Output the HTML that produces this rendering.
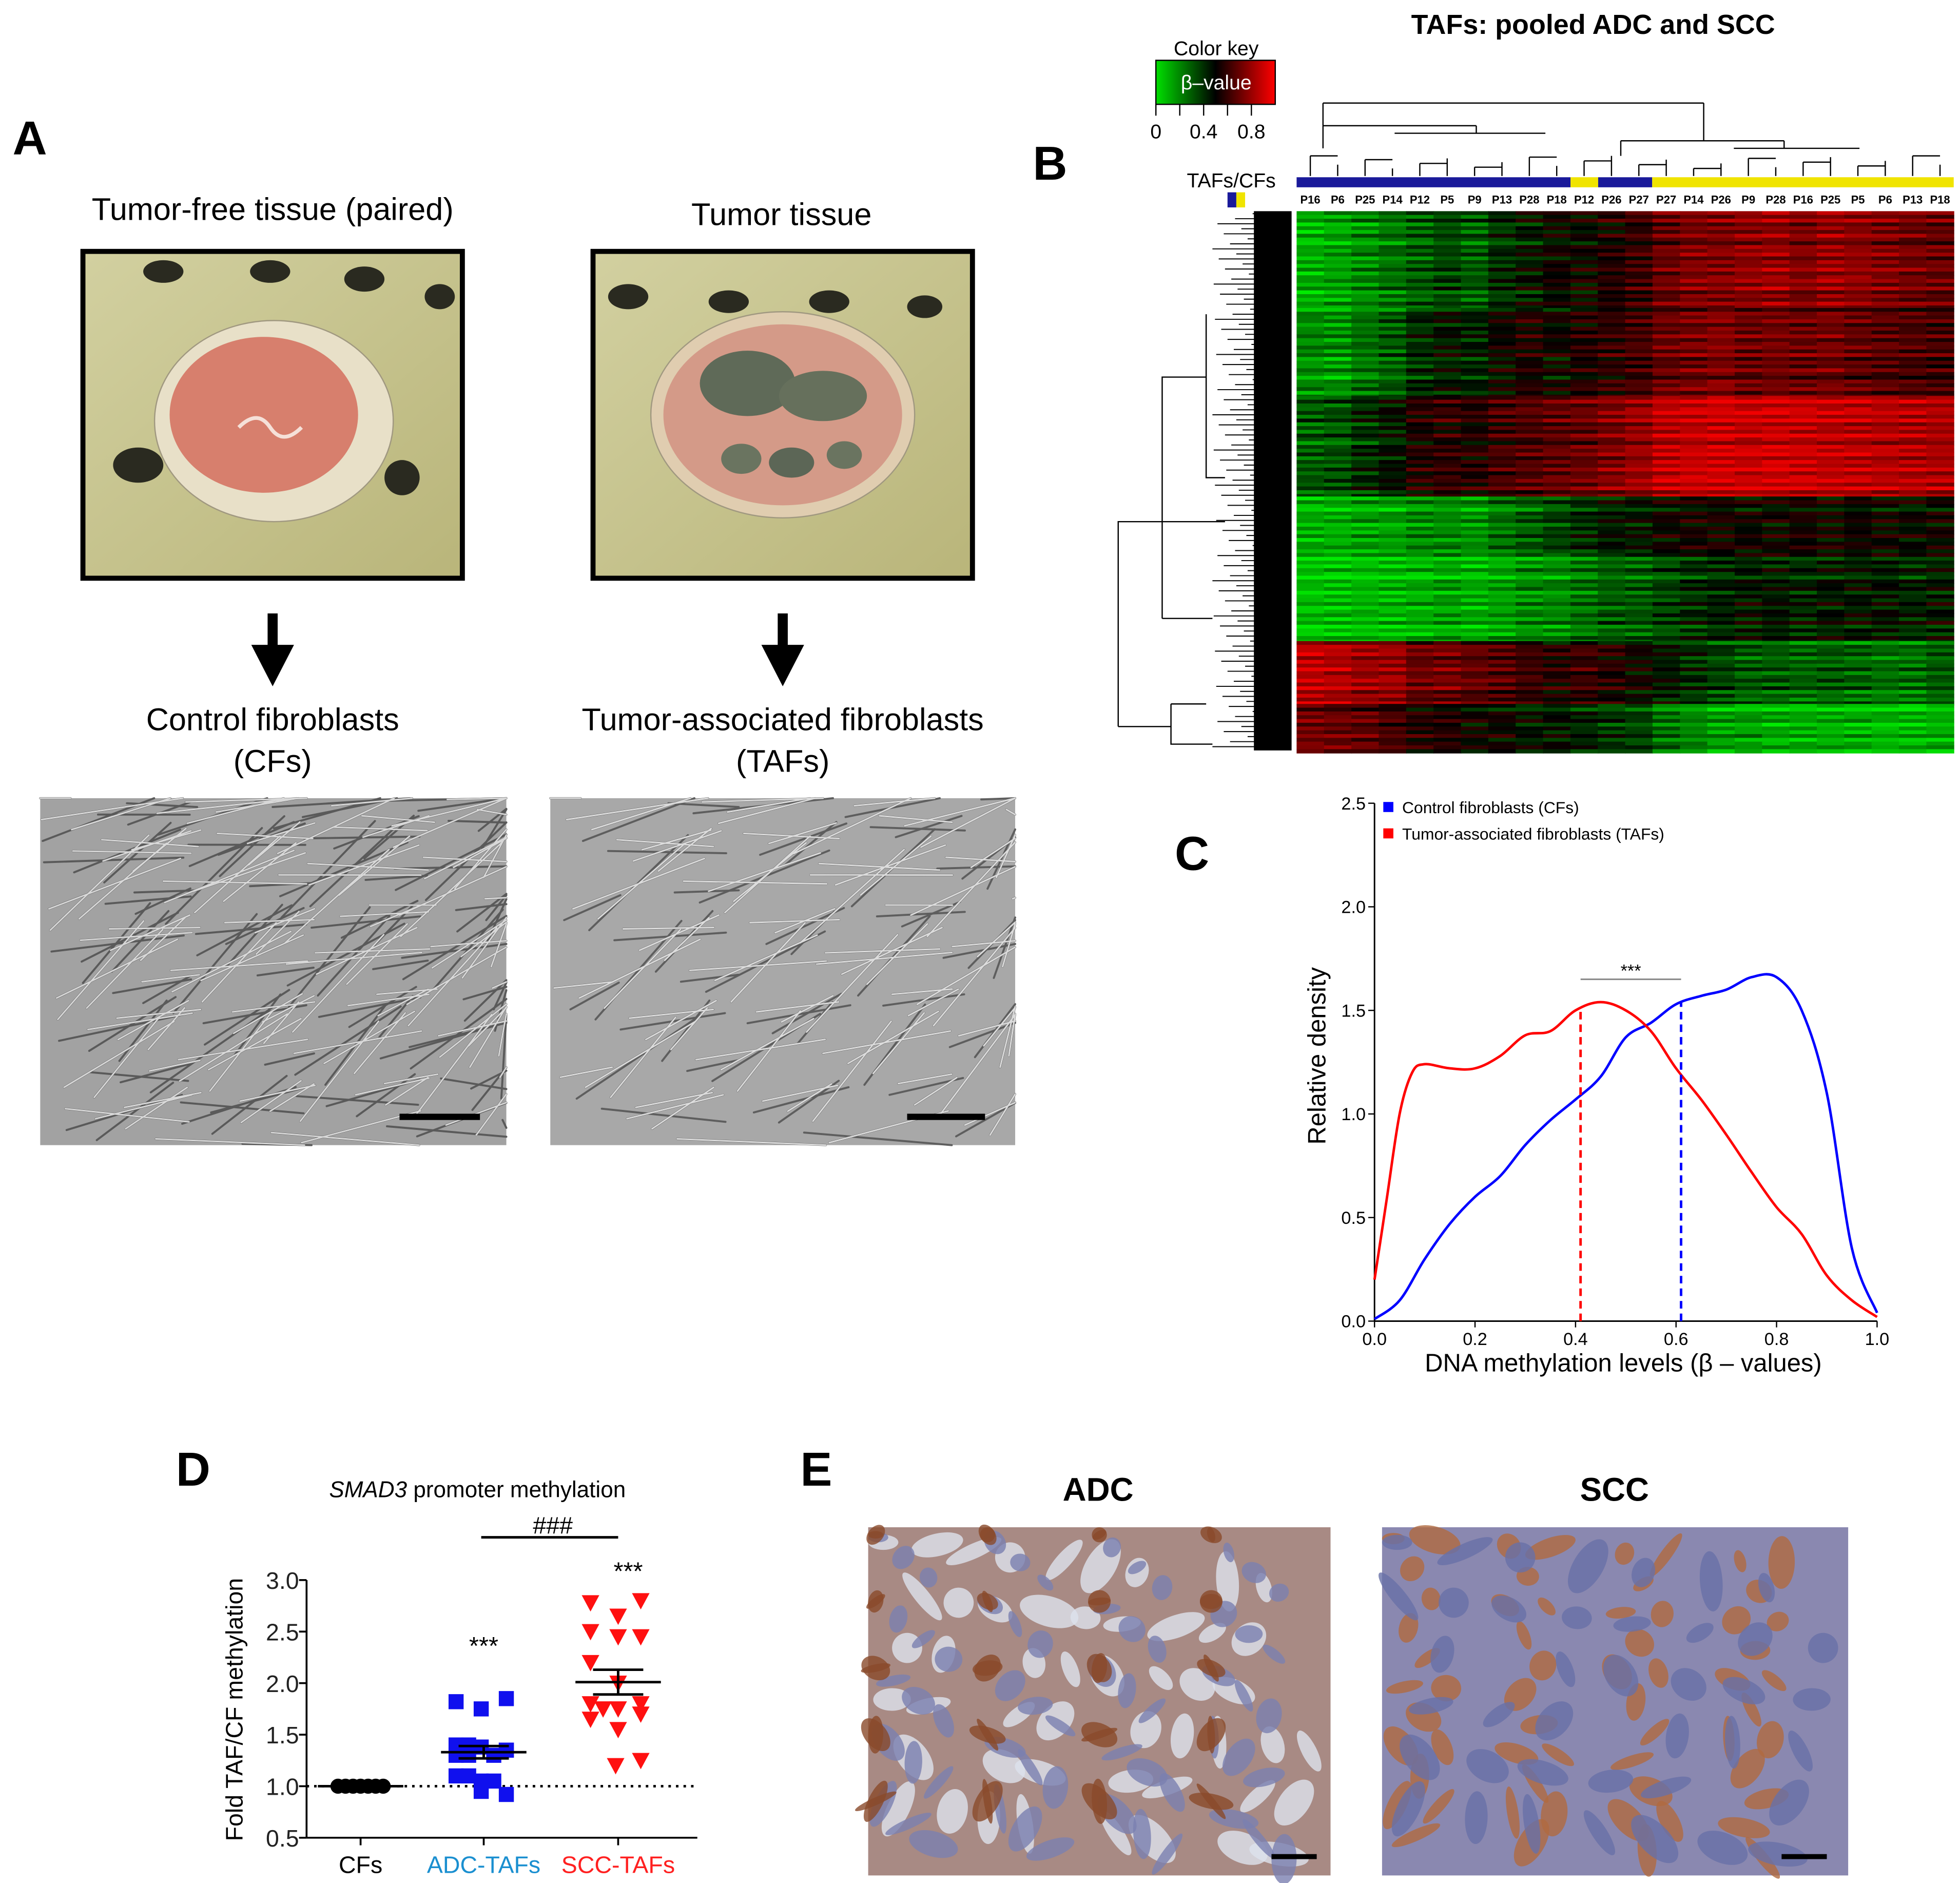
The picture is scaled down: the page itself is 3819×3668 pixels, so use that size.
<!DOCTYPE html>
<html><head><meta charset="utf-8"><style>
html,body{margin:0;padding:0;background:#fff}
svg{display:block}
text{font-family:"Liberation Sans",sans-serif}
</style></head><body>
<svg id="fig" xmlns="http://www.w3.org/2000/svg" width="3819" height="3668" viewBox="0 0 1560 1498" preserveAspectRatio="none">
<defs>
<linearGradient id="bgA" x1="0" y1="0" x2="1" y2="1"><stop offset="0" stop-color="#d2d0a0"/><stop offset="1" stop-color="#b9b57a"/></linearGradient>
</defs>

<!-- Panel A -->
<g>
<text x="10" y="123" font-size="38" font-weight="bold">A</text>
<text x="217" y="175" font-size="25" text-anchor="middle">Tumor-free tissue (paired)</text>
<text x="622" y="179" font-size="25" text-anchor="middle">Tumor tissue</text>
<g>
<rect x="66" y="200" width="302" height="260" fill="url(#bgA)" stroke="#000" stroke-width="4"/>
<ellipse cx="130" cy="216" rx="16" ry="9" fill="#2a2a20"/><ellipse cx="215" cy="216" rx="16" ry="9" fill="#2a2a20"/><ellipse cx="290" cy="222" rx="16" ry="10" fill="#2a2a20"/><ellipse cx="350" cy="236" rx="12" ry="10" fill="#2a2a20"/>
<ellipse cx="110" cy="370" rx="20" ry="14" fill="#2a2a20"/><ellipse cx="320" cy="380" rx="14" ry="14" fill="#2a2a20"/>
<ellipse cx="218" cy="335" rx="95" ry="80" fill="#e8e0c8" stroke="#a09880"/>
<ellipse cx="210" cy="330" rx="75" ry="62" fill="#d77f6d"/>
<path d="M190 340 q15 -15 25 0 q10 15 25 0" stroke="#f5e0d8" stroke-width="3" fill="none"/>
</g>
<g>
<rect x="472" y="200" width="302" height="260" fill="url(#bgA)" stroke="#000" stroke-width="4"/>
<ellipse cx="500" cy="236" rx="16" ry="10" fill="#2a2a20"/><ellipse cx="580" cy="240" rx="16" ry="9" fill="#2a2a20"/><ellipse cx="660" cy="240" rx="16" ry="9" fill="#2a2a20"/><ellipse cx="736" cy="244" rx="14" ry="9" fill="#2a2a20"/>
<ellipse cx="623" cy="330" rx="105" ry="82" fill="#e0cdb0" stroke="#a09880"/>
<ellipse cx="623" cy="330" rx="95" ry="72" fill="#d49a88"/>
<ellipse cx="595" cy="305" rx="38" ry="26" fill="#5f6a58"/><ellipse cx="655" cy="315" rx="35" ry="20" fill="#66705c"/>
<ellipse cx="590" cy="365" rx="16" ry="12" fill="#6a7460"/><ellipse cx="630" cy="368" rx="18" ry="12" fill="#5c6656"/><ellipse cx="672" cy="362" rx="14" ry="11" fill="#6a7460"/>
</g>
<g><rect x="213" y="488" width="8" height="30" fill="#000"/><polygon points="200,513 234,513 217,546" fill="#000"/></g>
<g><rect x="619" y="488" width="8" height="30" fill="#000"/><polygon points="606,513 640,513 623,546" fill="#000"/></g>
<text x="217" y="581" font-size="25" text-anchor="middle">Control fibroblasts</text>
<text x="217" y="614" font-size="25" text-anchor="middle">(CFs)</text>
<text x="623" y="581" font-size="25" text-anchor="middle">Tumor-associated fibroblasts</text>
<text x="623" y="614" font-size="25" text-anchor="middle">(TAFs)</text>
<g id="micro1"><rect x="32" y="635" width="371" height="276" fill="#a2a2a2"/></g>
<g id="micro2"><rect x="438" y="635" width="370" height="276" fill="#a8a8a8"/></g>
<rect x="318" y="886" width="64" height="5" fill="#000"/>
<rect x="722" y="886" width="62" height="5" fill="#000"/>
</g>

<!-- Panel B -->
<g>
<text x="822" y="143" font-size="38" font-weight="bold">B</text>
<text x="1268" y="27" font-size="22" font-weight="bold" text-anchor="middle">TAFs: pooled ADC and SCC</text>
<text x="968" y="44" font-size="16" text-anchor="middle">Color key</text>
<defs><linearGradient id="ck"><stop offset="0" stop-color="#00e000"/><stop offset="0.5" stop-color="#000"/><stop offset="1" stop-color="#ff0000"/></linearGradient></defs>
<rect x="920" y="48" width="95" height="35" fill="url(#ck)" stroke="#000"/>
<text x="968" y="71" font-size="16" fill="#fff" text-anchor="middle">β–value</text>
<g stroke="#000"><line x1="920" y1="83" x2="920" y2="92"/><line x1="939" y1="83" x2="939" y2="92"/><line x1="958" y1="83" x2="958" y2="92"/><line x1="977" y1="83" x2="977" y2="92"/><line x1="996" y1="83" x2="996" y2="92"/></g>
<text x="920" y="110" font-size="16" text-anchor="middle">0</text>
<text x="958" y="110" font-size="16" text-anchor="middle">0.4</text>
<text x="996" y="110" font-size="16" text-anchor="middle">0.8</text>
<text x="980" y="149" font-size="16" text-anchor="middle">TAFs/CFs</text>
<rect x="977" y="153" width="7" height="12" fill="#1a1a9a"/><rect x="984" y="153" width="7" height="12" fill="#f0e400"/>
<g id="hm"></g>
<g id="dendTop" stroke="#000" fill="none" stroke-width="1"></g>
<g id="dendLeft" stroke="#000" fill="none" stroke-width="1"></g>
</g>

<!-- Panel C -->
<g id="pc">
<text x="935" y="692" font-size="38" font-weight="bold">C</text>
</g>

<!-- Panel D -->
<g id="pd">
<text x="140" y="1182" font-size="38" font-weight="bold">D</text>
<text x="380" y="1191" font-size="18" text-anchor="middle"><tspan font-style="italic">SMAD3</tspan> promoter methylation</text>
</g>

<!-- Panel E -->
<g>
<text x="637" y="1182" font-size="38" font-weight="bold">E</text>
<text x="874" y="1194" font-size="26" font-weight="bold" text-anchor="middle">ADC</text>
<text x="1285" y="1194" font-size="26" font-weight="bold" text-anchor="middle">SCC</text>
<g id="e1"><rect x="691" y="1215" width="368" height="277" fill="#a88a84"/></g>
<g id="e2"><rect x="1100" y="1215" width="371" height="277" fill="#8a88b0"/></g>
<rect x="1012" y="1475" width="36" height="4" fill="#000"/>
<rect x="1418" y="1475" width="36" height="4" fill="#000"/>
</g>
</svg>
<script>
// ---------- Panel C data ----------
const densX = [0,0.05,0.1,0.15,0.2,0.25,0.3,0.35,0.4,0.45,0.5,0.55,0.6,0.65,0.7,0.75,0.8,0.85,0.9,0.95,1.0];
const cfDensity = [0.01,0.1,0.3,0.47,0.6,0.7,0.85,0.97,1.07,1.18,1.37,1.44,1.53,1.57,1.6,1.66,1.66,1.5,1.1,0.35,0.04];
const tafX = [0,0.025,0.05,0.075,0.1,0.15,0.2,0.25,0.3,0.35,0.4,0.45,0.5,0.55,0.6,0.65,0.7,0.75,0.8,0.85,0.9,0.95,1.0];
const tafDensity = [0.2,0.6,1.0,1.2,1.24,1.22,1.22,1.28,1.38,1.4,1.5,1.54,1.5,1.4,1.22,1.07,0.9,0.72,0.55,0.42,0.22,0.1,0.02];
const medians = [0.41,0.61];
const cXTicks = ["0.0","0.2","0.4","0.6","0.8","1.0"];
const cYTicks = ["0.0","0.5","1.0","1.5","2.0","2.5"];
// ---------- Panel D data ----------
const dGroups = ["CFs","ADC-TAFs","SCC-TAFs"];
const cfVals = [1,1,1,1,1,1,1];
const adcVals = [1.82,1.75,1.85,1.4,1.38,1.35,1.4,1.3,1.3,1.35,1.1,1.05,1.1,1.05,0.95,0.92,1.3];
const sccVals = [2.78,2.8,2.65,2.5,2.45,2.45,2.2,2.0,1.8,1.75,1.75,1.8,1.65,1.7,1.55,1.2,1.25];
const groupMeans = [1.0,1.33,2.01];
const groupSem = [0,0.06,0.12];
const dYTicks = ["0.5","1.0","1.5","2.0","2.5","3.0"];
// ---------- Panel B data ----------
const sampleLabels = ["P16","P6","P25","P14","P12","P5","P9","P13","P28","P18","P12","P26","P27","P27","P14","P26","P9","P28","P16","P25","P5","P6","P13","P18"];
const rowBlocks = [
 [0.12,0.15,0.2,0.25,0.3,0.35,0.3,0.4,0.45,0.5,0.5,0.55,0.6,0.7,0.75,0.75,0.78,0.8,0.75,0.8,0.78,0.75,0.72,0.7],
 [0.2,0.18,0.25,0.3,0.4,0.45,0.42,0.5,0.55,0.5,0.55,0.58,0.62,0.7,0.72,0.75,0.7,0.72,0.7,0.72,0.68,0.66,0.64,0.62],
 [0.3,0.32,0.4,0.45,0.55,0.58,0.55,0.62,0.65,0.68,0.7,0.75,0.8,0.88,0.9,0.92,0.9,0.92,0.9,0.88,0.88,0.86,0.85,0.84],
 [0.12,0.12,0.15,0.15,0.2,0.2,0.18,0.25,0.3,0.35,0.4,0.45,0.45,0.5,0.52,0.52,0.5,0.5,0.52,0.5,0.5,0.5,0.48,0.5],
 [0.08,0.08,0.1,0.1,0.12,0.15,0.12,0.15,0.2,0.2,0.25,0.3,0.3,0.35,0.4,0.42,0.45,0.45,0.42,0.45,0.45,0.45,0.42,0.45],
 [0.88,0.85,0.8,0.8,0.7,0.72,0.68,0.65,0.6,0.55,0.6,0.55,0.5,0.45,0.4,0.35,0.3,0.3,0.28,0.3,0.28,0.25,0.25,0.3],
 [0.72,0.7,0.68,0.62,0.55,0.55,0.5,0.5,0.45,0.45,0.42,0.38,0.35,0.25,0.2,0.15,0.15,0.12,0.12,0.12,0.12,0.1,0.1,0.12]
];
const rowBlockBounds = [168,245,315,395,440,510,560,597];
const rowNoise = [0.08,-0.05,0.12,-0.1,0.03,-0.07,0.1,-0.02,-0.12,0.06,0.0,0.09,-0.08,0.04,-0.03,0.11,-0.06,0.02];
const colNoise = [0.03,-0.04,0.05,-0.02,0.0,0.04,-0.05,0.02,-0.03,0.05,-0.01,0.03,-0.04,0.02,0.05,-0.03,0.01,-0.05,0.04,-0.02,0.03,0.0,-0.04,0.02];

const NS="http://www.w3.org/2000/svg";
function mk(tag,attrs,parent){const e=document.createElementNS(NS,tag);for(const k in attrs)e.setAttribute(k,attrs[k]);if(parent)parent.appendChild(e);return e;}

// ---- Heatmap ----
(function(){
 const hm=document.getElementById('hm');
 const x0=1032,x1=1555,n=sampleLabels.length,cw=(x1-x0)/n;
 function col(v){v=Math.max(0,Math.min(1,v));if(v<0.5){return 'rgb(0,'+Math.round((0.5-v)*2*235)+',0)';}return 'rgb('+Math.round((v-0.5)*2*240)+',0,0)';}
 let k=0;
 for(let b=0;b<rowBlocks.length;b++){
  for(let y=rowBlockBounds[b];y<rowBlockBounds[b+1];y+=3){
   const rn=rowNoise[k%rowNoise.length];k++;
   for(let c=0;c<n;c++){
    const r=mk('rect',{x:x0+c*cw,y:y,width:cw+0.4,height:3.4,fill:col(rowBlocks[b][c]+rn+colNoise[(c+k)%colNoise.length])},hm);
    
    
   }
  }
 }
 const bar=[["#1a1a9a",1032,1250],["#f0e400",1250,1272],["#1a1a9a",1272,1315],["#f0e400",1315,1555]];
 bar.forEach(s=>{const r=mk('rect',{x:s[1],y:141,width:s[2]-s[1],height:8,fill:s[0]},hm);
  
  });
 sampleLabels.forEach((l,i)=>{const t=mk('text',{x:x0+(i+0.5)*cw,y:162,'font-size':9,'font-weight':'bold','text-anchor':'middle'},hm);t.textContent=l;
  
  });
 const dt=document.getElementById('dendTop');
 const lines=[[1053,82,1356,82],[1053,82,1053,100],[1356,82,1356,112],[1053,100,1175,100],[1053,100,1053,118],[1175,100,1175,106],[1110,106,1230,106],[1290,112,1420,112],[1290,112,1290,124],[1420,112,1420,118],[1380,118,1480,118]];
 lines.forEach(l=>mk('line',{x1:l[0],y1:l[1],x2:l[2],y2:l[3]},dt));
 for(let i=0;i<n;i++){const x=x0+(i+0.5)*cw;mk('line',{x1:x,y1:140,x2:x,y2:124+((i*7)%11)},dt);}
 for(let i=0;i<n-1;i+=2){const x=x0+(i+0.5)*cw;const y=124+((i*7)%11);mk('line',{x1:x,y1:y,x2:x+cw,y2:y},dt);}
 const dl=document.getElementById('dendLeft');
 mk('path',{d:'M890 578 V415 H925 V492 M925 415 V300 H960 M890 578 H932 M932 560 V592 H965 M932 560 H960 M925 492 H965 M960 300 V250 M960 300 V380 H975 M925 415 H975'},dl);
 mk('rect',{x:998,y:168,width:30,height:429,fill:'#000',stroke:'none'},dl);
 for(let y=170;y<597;y+=4){mk('line',{x1:965+((y*13)%33),y1:y,x2:1000,y2:y,'stroke-width':0.8},dl);}
})();

// ---- Panel C chart ----
(function(){
 const g=document.getElementById('pc');
 const X0=1094,X1=1494,Y0=1051,Y25=639;
 const sx=v=>X0+(X1-X0)*v, sy=v=>Y0-(Y0-Y25)*v/2.5;
 mk('line',{x1:X0,y1:Y25,x2:X0,y2:Y0,stroke:'#000','stroke-width':1.2},g);
 mk('line',{x1:X0,y1:Y0,x2:X1,y2:Y0,stroke:'#000','stroke-width':1.2},g);
 cXTicks.forEach(t=>{const v=parseFloat(t);mk('line',{x1:sx(v),y1:Y0,x2:sx(v),y2:Y0+5,stroke:'#000'},g);
  const e=mk('text',{x:sx(v),y:Y0+19,'font-size':14,'text-anchor':'middle'},g);e.textContent=t;
  
  });
 cYTicks.forEach(t=>{const v=parseFloat(t);mk('line',{x1:X0-5,y1:sy(v),x2:X0,y2:sy(v),stroke:'#000'},g);
  const e=mk('text',{x:X0-7,y:sy(v)+5,'font-size':14,'text-anchor':'end'},g);e.textContent=t;
  
  });
 const xl=mk('text',{x:1292,y:1091,'font-size':20,'text-anchor':'middle'},g);xl.textContent='DNA methylation levels (β – values)';
 
 
 const yl=mk('text',{x:1055,y:840,'font-size':20,'text-anchor':'middle',transform:'rotate(-90 1055 840)'},g);yl.textContent='Relative density';
 
 
 function path(xs,ys){const P=xs.map((x,i)=>[sx(x),sy(ys[i])]);let d='M'+P[0][0].toFixed(1)+' '+P[0][1].toFixed(1);
  for(let i=0;i<P.length-1;i++){const p0=P[Math.max(0,i-1)],p1=P[i],p2=P[i+1],p3=P[Math.min(P.length-1,i+2)];
   const c1=[p1[0]+(p2[0]-p0[0])/6,p1[1]+(p2[1]-p0[1])/6],c2=[p2[0]-(p3[0]-p1[0])/6,p2[1]-(p3[1]-p1[1])/6];
   d+=`C${c1[0].toFixed(1)} ${c1[1].toFixed(1)} ${c2[0].toFixed(1)} ${c2[1].toFixed(1)} ${p2[0].toFixed(1)} ${p2[1].toFixed(1)}`;}
  return d;}
 const b=mk('path',{d:path(densX,cfDensity),stroke:'#0000ff','stroke-width':2,fill:'none','stroke-linejoin':'round'},g);
 
 
 const r=mk('path',{d:path(tafX,tafDensity),stroke:'#ff0000','stroke-width':2,fill:'none','stroke-linejoin':'round'},g);
 
 
 function interp(xs,ys,v){for(let i=1;i<xs.length;i++){if(v<=xs[i]){const t=(v-xs[i-1])/(xs[i]-xs[i-1]);return ys[i-1]+t*(ys[i]-ys[i-1]);}}return ys[ys.length-1];}
 const m1=mk('line',{x1:sx(medians[0]),y1:Y0,x2:sx(medians[0]),y2:sy(interp(tafX,tafDensity,medians[0])),stroke:'#ff0000','stroke-width':2,'stroke-dasharray':'6,4'},g);
 
 
 const m2=mk('line',{x1:sx(medians[1]),y1:Y0,x2:sx(medians[1]),y2:sy(interp(densX,cfDensity,medians[1])),stroke:'#0000ff','stroke-width':2,'stroke-dasharray':'6,4'},g);
 
 
 mk('line',{x1:sx(medians[0]),y1:sy(1.65),x2:sx(medians[1]),y2:sy(1.65),stroke:'#888','stroke-width':1.2},g);
 const st=mk('text',{x:(sx(medians[0])+sx(medians[1]))/2,y:sy(1.65)-2,'font-size':14,'text-anchor':'middle'},g);st.textContent='***';
 
 
 const legend=[["#0000ff","Control fibroblasts (CFs)",644],["#ff0000","Tumor-associated fibroblasts (TAFs)",665]];
 legend.forEach(l=>{mk('rect',{x:1101,y:l[2]-6,width:8,height:8,fill:l[0]},g);
  const t=mk('text',{x:1116,y:l[2]+3,'font-size':13},g);t.textContent=l[1];
  
  });
})();

// ---- Panel D chart ----
(function(){
 const g=document.getElementById('pd');
 const AX=244,XR=555,Y05=1462,Y30=1257;
 const sy=v=>Y05-(Y05-Y30)*(v-0.5)/2.5;
 const gx=[287,385,492];
 const gcol=["#000","#1a8fd0","#ff2020"];
 mk('line',{x1:AX,y1:Y30,x2:AX,y2:Y05,stroke:'#000','stroke-width':1.5},g);
 mk('line',{x1:AX,y1:Y05,x2:XR,y2:Y05,stroke:'#000','stroke-width':1.5},g);
 dYTicks.forEach(t=>{const v=parseFloat(t);mk('line',{x1:AX-6,y1:sy(v),x2:AX,y2:sy(v),stroke:'#000','stroke-width':1.5},g);
  const e=mk('text',{x:AX-6,y:sy(v)+7,'font-size':19,'text-anchor':'end',fill:'#222'},g);e.textContent=t;
  
  });
 dGroups.forEach((n,i)=>{mk('line',{x1:gx[i],y1:Y05,x2:gx[i],y2:Y05+6,stroke:'#000','stroke-width':1.5},g);
  const e=mk('text',{x:gx[i],y:1490,'font-size':19,'text-anchor':'middle',fill:gcol[i]},g);e.textContent=n;
  
  });
 const yl=mk('text',{x:193,y:1360,'font-size':19,'text-anchor':'middle',transform:'rotate(-90 193 1360)'},g);yl.textContent='Fold TAF/CF methylation';
 
 
 mk('line',{x1:AX,y1:sy(1),x2:XR,y2:sy(1),stroke:'#000','stroke-width':2,'stroke-dasharray':'2,4'},g);
 const jitA=[-22,-2,18,-22,-2,18,-12,8,-22,18,-22,-2,-12,8,-2,18,-12];
 const jitS=[-22,18,0,-22,0,18,-22,0,-22,-12,0,18,-22,18,0,-2,18];
 cfVals.forEach((v,i)=>{const c=mk('circle',{cx:gx[0]-18+i*6,cy:sy(v),r:6,fill:'#000'},g);
  
  });
 adcVals.forEach((v,i)=>{const r=mk('rect',{x:gx[1]+jitA[i]-6,y:sy(v)-6,width:12,height:12,fill:'#1010ee'},g);
  
  });
 sccVals.forEach((v,i)=>{const x=gx[2]+jitS[i],y=sy(v);const p=mk('polygon',{points:`${x-7},${y-6} ${x+7},${y-6} ${x},${y+7}`,fill:'#ff1010'},g);
  
  });
 groupMeans.forEach((m,i)=>{
  mk('line',{x1:gx[i]-34,y1:sy(m),x2:gx[i]+34,y2:sy(m),stroke:'#000','stroke-width':2},g);
  if(groupSem[i]>0){mk('line',{x1:gx[i],y1:sy(m-groupSem[i]),x2:gx[i],y2:sy(m+groupSem[i]),stroke:'#000','stroke-width':2},g);
   mk('line',{x1:gx[i]-20,y1:sy(m-groupSem[i]),x2:gx[i]+20,y2:sy(m-groupSem[i]),stroke:'#000','stroke-width':2},g);
   mk('line',{x1:gx[i]-20,y1:sy(m+groupSem[i]),x2:gx[i]+20,y2:sy(m+groupSem[i]),stroke:'#000','stroke-width':2},g);}
 });
 const s1=mk('text',{x:gx[1],y:sy(2.4)+10,'font-size':20,'text-anchor':'middle'},g);s1.textContent='***';
 
 
 const s2=mk('text',{x:gx[2]+8,y:sy(3.1)+8,'font-size':20,'text-anchor':'middle'},g);s2.textContent='***';
 
 
 mk('line',{x1:383,y1:1223,x2:492,y2:1223,stroke:'#000','stroke-width':2},g);
 const h=mk('text',{x:440,y:1220,'font-size':19,'text-anchor':'middle'},g);h.textContent='###';
 
 
})();

// ---- textures for photos ----
(function(){
 function streaks(id,x,y,w,h,n,col,wd){const g=document.getElementById(id);
  for(let i=0;i<n;i++){const px=x+((i*73)%w),py=y+((i*41)%h),a=((i*37)%60-30)*Math.PI/180-0.4,L=40+(i*17)%80;
   mk('line',{x1:px,y1:py,x2:Math.min(x+w,Math.max(x,px+Math.cos(a)*L)),y2:Math.min(y+h,Math.max(y,py+Math.sin(a)*L)),stroke:col,'stroke-width':wd,'stroke-linecap':'round'},g);}}
 streaks('micro1',32,635,371,276,220,'#5a5a5a',1.6);
 streaks('micro1',32,635,371,276,120,'#d8d8d8',1.2);
 streaks('micro2',438,635,370,276,140,'#5e5e5e',1.6);
 streaks('micro2',438,635,370,276,90,'#dcdcdc',1.2);
 function blobs(id,x,y,w,h,n,col,r){const g=document.getElementById(id);
  for(let i=0;i<n;i++){const cx=x+r+((i*89)%(w-2*r)),cy=y+r+((i*53)%(h-2*r));
   mk('ellipse',{cx:cx,cy:cy,rx:r+(i%5)*3,ry:r/2+(i%3)*3,fill:col,opacity:0.8,transform:`rotate(${(i*29)%180} ${cx} ${cy})`},g);}}
 blobs('e1',691,1215,368,277,50,'#dde2ee',12);
 blobs('e1',691,1215,368,277,60,'#7a80b0',8);
 blobs('e1',691,1215,368,277,40,'#8a4a2a',6);
 blobs('e2',1100,1215,371,277,60,'#b06a40',9);
 blobs('e2',1100,1215,371,277,40,'#6870a8',12);
})();
</script>
</body></html>
